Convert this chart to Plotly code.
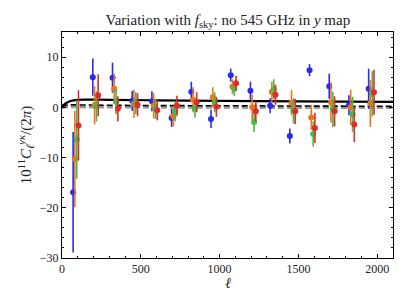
import plotly.graph_objects as go

bin_centers = [87.5 + 125 * k for k in range(16)]
offsets = {"blue": -17, "orange": -6, "green": 6, "red": 17}

blue_y = [-16.9, 6.0, 5.9, 1.3, 1.2, -2.1, 3.1, -2.3, 6.4, 3.3, 0.3, -5.7, 7.4, 4.2, 0.4, 3.7]
blue_e = [12.0, 3.7, 3.0, 2.0, 2.0, 1.8, 2.0, 1.8, 1.3, 1.8, 1.5, 1.5, 1.2, 2.5, 2.0, 4.0]
orange_y = [-10.3, 0.4, 3.7, 0.7, 0.3, -1.8, 1.5, 2.0, 4.1, 0.0, 3.1, 0.9, -2.0, 1.0, 0.0, 0.8]
orange_e = [9.6, 3.8, 3.0, 2.8, 2.5, 2.0, 2.5, 2.0, 1.5, 2.5, 2.0, 2.5, 2.5, 4.0, 3.5, 4.7]
green_y = [-6.4, 0.2, 1.1, 0.8, -0.3, -0.8, -0.2, 1.0, 3.7, -2.9, 3.6, -0.7, -5.3, -0.4, -1.4, 2.7]
green_e = [7.8, 3.0, 2.5, 2.2, 2.0, 2.0, 1.8, 2.0, 1.5, 2.0, 2.0, 2.5, 2.5, 3.5, 3.5, 4.5]
red_y = [-3.6, 2.4, -0.3, 0.5, -0.6, 0.3, 1.0, 0.1, 4.8, -0.8, 2.5, -0.8, -4.1, -0.8, -3.4, 3.0]
red_e = [7.0, 4.2, 2.5, 2.3, 2.0, 2.0, 2.0, 2.0, 1.5, 2.0, 2.0, 2.5, 3.0, 3.0, 3.5, 4.5]

model_ell = [0, 15, 30, 60, 100, 150, 300, 600, 1000, 1500, 2100]
model_solid = [0.2, 0.6, 0.9, 1.3, 1.5, 1.55, 1.5, 1.4, 1.3, 1.2, 1.1]
model_dashed = [0.1, 0.35, 0.45, 0.5, 0.5, 0.45, 0.4, 0.35, 0.3, 0.25, 0.2]
model_gray = [-0.1, 0.0, 0.05, 0.05, 0.05, 0.0, 0.0, -0.05, -0.05, -0.1, -0.1]

series = [
    ("blue", blue_y, blue_e, "#2a2aee"),
    ("orange", orange_y, orange_e, "#e8771a"),
    ("green", green_y, green_e, "#44bb44"),
    ("red", red_y, red_e, "#dd2b2b"),
]

fig = go.Figure()
fig.add_trace(go.Scatter(x=model_ell, y=model_gray, mode="lines",
                         line=dict(color="#999999", width=2.5, dash="6px,3px"), showlegend=False))
fig.add_trace(go.Scatter(x=model_ell, y=model_dashed, mode="lines",
                         line=dict(color="black", width=1.6, dash="6px,3px"), showlegend=False))
fig.add_trace(go.Scatter(x=model_ell, y=model_solid, mode="lines", line_shape="spline",
                         line=dict(color="black", width=2.2), showlegend=False))

for name, ys, es, col in series:
    xs = [c + offsets[name] for c in bin_centers]
    fig.add_trace(go.Scatter(
        x=xs, y=ys, mode="markers",
        marker=dict(color=col, size=6),
        error_y=dict(type="data", array=es, visible=True, color=col, thickness=1.6, width=0),
        showlegend=False))

font = "Liberation Serif, DejaVu Serif, serif"
axis_common = dict(showline=True, linecolor="black", linewidth=1, mirror="ticks",
                   ticks="inside", ticklen=4, tickcolor="black", showgrid=False,
                   zeroline=False, tickfont=dict(family=font, size=12, color="#222"))

fig.update_layout(
    width=399, height=297,
    margin=dict(l=54, r=14, t=24, b=47),
    plot_bgcolor="white", paper_bgcolor="white",
    title=dict(text="Variation with <i>f</i><sub>sky</sub>: no 545 GHz in <i>y</i> map",
               x=0.551, xanchor="center", y=0.962, yanchor="middle",
               font=dict(family=font, size=15, color="#222")),
    xaxis=dict(range=[0, 2100], tickvals=[0, 500, 1000, 1500, 2000],
               minor=dict(dtick=100, ticks="inside", ticklen=2, tickcolor="black"),
               **axis_common),
    yaxis=dict(range=[-30, 15], tickvals=[-30, -20, -10, 0, 10],
               ticktext=["\u221230", "\u221220", "\u221210", "0", "10"],
               minor=dict(dtick=2, ticks="inside", ticklen=2, tickcolor="black"),
               title=dict(text="10<sup>11</sup><i>C</i><sub><i>ℓ</i></sub><sup><i>yκ</i></sup>/(2<i>π</i>)",
                          font=dict(family=font, size=15, color="#222"), standoff=4),
               **axis_common),
    annotations=[dict(text="<i>ℓ</i>", xref="paper", yref="paper", x=0.5, y=-0.11,
                      xanchor="center", yanchor="middle", showarrow=False,
                      font=dict(family=font, size=15, color="#222"))],
)

fig.write_html("out.html")
